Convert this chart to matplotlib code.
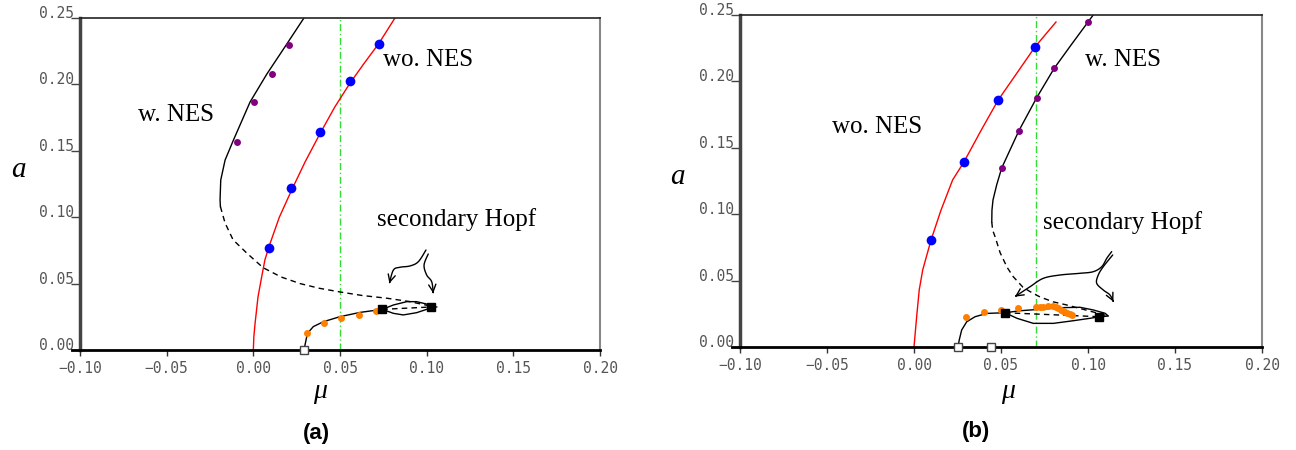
import numpy as np
import matplotlib.pyplot as plt
from matplotlib.path import Path
from matplotlib.patches import FancyArrowPatch

# ---------------- data ----------------
mu_ticks = [-0.10, -0.05, 0.00, 0.05, 0.10, 0.15, 0.20]
mu_tick_labels = ['\u22120.10', '\u22120.05', '0.00', '0.05', '0.10', '0.15', '0.20']
a_ticks = [0.00, 0.05, 0.10, 0.15, 0.20, 0.25]
a_tick_labels = ['0.00', '0.05', '0.10', '0.15', '0.20', '0.25']

# (a) without NES: stable branch (red) and numerical points (blue)
mu_wo_a = [0.0, 0.0003, 0.001, 0.0027, 0.0048, 0.0067, 0.0096, 0.015, 0.0223, 0.030,
           0.0385, 0.047, 0.0558, 0.064, 0.0725, 0.0817]
a_wo_a = [0.0, 0.010, 0.020, 0.040, 0.055, 0.068, 0.080, 0.100, 0.121, 0.142,
          0.163, 0.183, 0.201, 0.216, 0.231, 0.25]
mu_wo_pts_a = [0.009, 0.0217, 0.0385, 0.0558, 0.0725]
a_wo_pts_a = [0.0768, 0.122, 0.164, 0.2026, 0.2304]

# (a) with NES: stable upper branch, unstable (dashed) branch, points
mu_w_a = [0.0292, 0.0188, 0.0077, -0.0019, -0.0115, -0.0163, -0.0188, -0.0192, -0.0190]
a_w_a = [0.25, 0.2294, 0.2076, 0.1867, 0.158, 0.143, 0.128, 0.113, 0.108]
mu_w_uns_a = [-0.0190, -0.0163, -0.0117, -0.0038, 0.0056, 0.016, 0.027, 0.038, 0.050,
              0.063, 0.077, 0.090, 0.1025]
a_w_uns_a = [0.108, 0.0956, 0.083, 0.073, 0.062, 0.055, 0.050, 0.0465, 0.0437,
             0.041, 0.039, 0.0365, 0.0330]
mu_w_pts_a = [0.0206, 0.0108, 0.0004, -0.0094]
a_w_pts_a = [0.2297, 0.208, 0.187, 0.157]

# (a) lower periodic branch, secondary Hopf loop, points
mu_low_a = [0.0292, 0.0298, 0.0312, 0.0346, 0.0404, 0.050, 0.0615, 0.0744]
a_low_a = [0.0, 0.0037, 0.0125, 0.0176, 0.0213, 0.0251, 0.0283, 0.0306]
mu_loop_up_a = [0.0744, 0.0808, 0.0885, 0.0942, 0.100, 0.1025, 0.1058]
a_loop_up_a = [0.0306, 0.0339, 0.0364, 0.0364, 0.0346, 0.0324, 0.0324]
mu_loop_lo_a = [0.0744, 0.0808, 0.0865, 0.0942, 0.100, 0.1025]
a_loop_lo_a = [0.0306, 0.0276, 0.0264, 0.0281, 0.0306, 0.0324]
mu_hopf_a = [0.0744, 0.1025]
a_hopf_a = [0.0306, 0.0324]
mu_fold_a = [0.0292]
a_fold_a = [0.0]
mu_low_pts_a = [0.0308, 0.0408, 0.0508, 0.0608, 0.0708]
a_low_pts_a = [0.0126, 0.0206, 0.0243, 0.0264, 0.0296]
mu_forcing_a = 0.05

# (b) without NES
mu_wo_b = [0.0, 0.0008, 0.0017, 0.0030, 0.0050, 0.0098, 0.0155, 0.0222, 0.0287, 0.0385,
           0.0484, 0.059, 0.0695, 0.0816]
a_wo_b = [0.0, 0.012, 0.0253, 0.0429, 0.058, 0.0806, 0.103, 0.1258, 0.1393, 0.163,
          0.186, 0.206, 0.2259, 0.2447]
mu_wo_pts_b = [0.0098, 0.0287, 0.0484, 0.0695]
a_wo_pts_b = [0.0806, 0.1393, 0.186, 0.2259]

# (b) with NES
mu_w_b = [0.103, 0.100, 0.0906, 0.0806, 0.0705, 0.0603, 0.0504, 0.0475, 0.0454, 0.0448, 0.0447]
a_w_b = [0.25, 0.2447, 0.228, 0.2099, 0.1877, 0.1629, 0.1348, 0.122, 0.1107, 0.103, 0.094]
mu_w_uns_b = [0.0447, 0.0452, 0.0466, 0.0495, 0.0535, 0.0570, 0.0626, 0.0667, 0.0724,
              0.0800, 0.0879, 0.0954, 0.1029, 0.1115]
a_w_uns_b = [0.094, 0.088, 0.083, 0.071, 0.060, 0.053, 0.045, 0.0417, 0.0377,
             0.0340, 0.0316, 0.0290, 0.0264, 0.0233]
mu_w_pts_b = [0.100, 0.0806, 0.0705, 0.0603, 0.0504]
a_w_pts_b = [0.2447, 0.2099, 0.1877, 0.1629, 0.1348]

mu_low_b = [0.0253, 0.0260, 0.0274, 0.0303, 0.0351, 0.0418, 0.0523]
a_low_b = [0.0, 0.0053, 0.0128, 0.019, 0.0228, 0.0253, 0.0258]
mu_loop_up_b = [0.0523, 0.061, 0.0724, 0.0839, 0.0954, 0.103, 0.1098, 0.1117, 0.1065]
a_loop_up_b = [0.0258, 0.0273, 0.0284, 0.0296, 0.0299, 0.0279, 0.0254, 0.0233, 0.0228]
mu_loop_lo_b = [0.0523, 0.0592, 0.0686, 0.0801, 0.0916, 0.1011, 0.1065]
a_loop_lo_b = [0.0258, 0.0216, 0.0178, 0.0178, 0.0198, 0.0216, 0.0228]
mu_hopf_b = [0.0523, 0.1065]
a_hopf_b = [0.0258, 0.0228]
mu_fold_b = [0.0253, 0.0443]
a_fold_b = [0.0, 0.0]
mu_low_pts_b = [0.0299, 0.0402, 0.0498, 0.0600, 0.0701, 0.0724, 0.0743, 0.0772, 0.0801,
                0.0815, 0.083, 0.0843, 0.0855, 0.0869, 0.0882, 0.0895, 0.0907]
a_low_pts_b = [0.0228, 0.0266, 0.0279, 0.0291, 0.0299, 0.0304, 0.0304, 0.0306, 0.0309,
               0.0300, 0.0291, 0.0282, 0.0273, 0.0265, 0.0258, 0.0250, 0.0241]
mu_forcing_b = 0.07

# annotation arrows (curved pointers to the Hopf points)
arrows_a = [
    [(0.0996, 0.0753), (0.0952, 0.0665), (0.0904, 0.0633), (0.0846, 0.0623),
     (0.0808, 0.0602), (0.0785, 0.0502)],
    [(0.1009, 0.0723), (0.0985, 0.0640), (0.1000, 0.0565), (0.1029, 0.0514),
     (0.1038, 0.0427)],
]
arrows_b = [
    [(0.1136, 0.0718), (0.1108, 0.0668), (0.1079, 0.0605), (0.1030, 0.0567),
     (0.0954, 0.0555), (0.0839, 0.0542), (0.0743, 0.0517), (0.0667, 0.0454),
     (0.0580, 0.0379)],
    [(0.1142, 0.0693), (0.1088, 0.0605), (0.1059, 0.0542), (0.1050, 0.0480),
     (0.1088, 0.0429), (0.1126, 0.0392), (0.1146, 0.0341)],
]

RED = '#ff0000'
BLUE = '#0000ff'
PURPLE = '#800080'
ORANGE = '#ff7f00'
GREEN = '#33dd33'
SERIF = 'Liberation Serif'


def smooth(points, n=12):
    # Catmull-Rom through the pointer's control points (annotation only)
    p = np.array(points)
    p = np.vstack([p[0], p, p[-1]])
    out = []
    for i in range(1, len(p) - 2):
        p0, p1, p2, p3 = p[i - 1], p[i], p[i + 1], p[i + 2]
        for t in np.linspace(0, 1, n, endpoint=False):
            out.append(0.5 * ((2 * p1) + (-p0 + p2) * t +
                              (2 * p0 - 5 * p1 + 4 * p2 - p3) * t ** 2 +
                              (-p0 + 3 * p1 - 3 * p2 + p3) * t ** 3))
    out.append(p[-2])
    return np.array(out)


def style(ax, xlab_pos, ylab_pos):
    ax.set_xlim(-0.10, 0.20)
    ax.set_ylim(0.0, 0.25)
    ax.set_xticks(mu_ticks)
    ax.set_xticklabels(mu_tick_labels)
    ax.set_yticks(a_ticks)
    ax.set_yticklabels(a_tick_labels)
    for lab in ax.get_xticklabels() + ax.get_yticklabels():
        lab.set_fontfamily('DejaVu Sans Mono')
        lab.set_fontsize(10.5)
        lab.set_color('#555555')
    for lab in ax.get_yticklabels():
        lab.set_va('baseline')
    ax.tick_params(axis='y', direction='out', length=6.5, width=1, color='#444444', pad=-2)
    ax.tick_params(axis='x', direction='out', length=4, width=1, color='#333333', pad=4)
    ax.spines['left'].set_color('#444444')
    ax.spines['left'].set_linewidth(2.5)
    ax.spines['top'].set_color('#222222')
    ax.spines['top'].set_linewidth(1.2)
    ax.spines['right'].set_color('#888888')
    ax.spines['right'].set_linewidth(1.5)
    ax.spines['bottom'].set_visible(False)
    ax.plot([-0.016, 1.0], [0, 0], transform=ax.transAxes, clip_on=False,
            color='black', lw=2, zorder=6)
    ax.set_xlabel('\u03bc', fontsize=20, family=SERIF, style='italic')
    ax.xaxis.set_label_coords(*xlab_pos)
    ax.xaxis.label.set_va('center')
    ax.set_ylabel('a', fontsize=21, family=SERIF, style='italic', rotation=0)
    ax.yaxis.set_label_coords(*ylab_pos)
    ax.yaxis.label.set_va('center')
    ax.yaxis.label.set_ha('center')


def pointer(ax, pts):
    path = Path(smooth(pts))
    ax.add_patch(FancyArrowPatch(path=path, arrowstyle='->', mutation_scale=13,
                                 lw=1, color='black', zorder=5))


fig = plt.figure(figsize=(12.96, 4.5), dpi=100)
ax_a = fig.add_axes([80 / 1296, 1 - 350 / 450, 520 / 1296, 332 / 450])
ax_b = fig.add_axes([740 / 1296, 1 - 347 / 450, 522 / 1296, 332 / 450])

dash = (0, (4, 3))

# ---------------- panel (a) ----------------
ax = ax_a
ax.axvline(mu_forcing_a, color=GREEN, lw=1, ls=(0, (5, 2, 1, 2)), zorder=1)
ax.plot(mu_wo_a, a_wo_a, color=RED, lw=1, zorder=2)
ax.plot(mu_w_a, a_w_a, color='black', lw=1, zorder=2)
ax.plot(mu_w_uns_a, a_w_uns_a, color='black', lw=1, ls=dash, zorder=2)
ax.plot(mu_low_a, a_low_a, color='black', lw=1, zorder=2)
ax.plot(mu_loop_up_a, a_loop_up_a, color='black', lw=1, zorder=2)
ax.plot(mu_loop_lo_a, a_loop_lo_a, color='black', lw=1, zorder=2)
ax.plot(mu_hopf_a, a_hopf_a, color='black', lw=1, ls=dash, zorder=2)
ax.plot(mu_wo_pts_a, a_wo_pts_a, 'o', color=BLUE, ms=7, mec='none', zorder=3)
ax.plot(mu_w_pts_a, a_w_pts_a, 'o', color=PURPLE, ms=5, mec='none', zorder=3)
ax.plot(mu_low_pts_a, a_low_pts_a, 'o', color=ORANGE, ms=5, mec='none', zorder=3)
ax.plot(mu_hopf_a, a_hopf_a, 's', color='black', ms=6, zorder=4)
ax.plot(mu_fold_a, a_fold_a, 's', mfc='white', mec='#444444', mew=1, ms=6,
        zorder=7, clip_on=False)
ax.text(-0.0446, 0.177, 'w. NES', ha='center', va='center', fontsize=18, family=SERIF)
ax.text(0.1008, 0.2184, 'wo. NES', ha='center', va='center', fontsize=18, family=SERIF)
ax.text(0.1175, 0.0979, 'secondary Hopf', ha='center', va='center', fontsize=18, family=SERIF)
for pts in arrows_a:
    pointer(ax, pts)
style(ax, (0.4615, -0.1265), (-0.119, 0.542))

# ---------------- panel (b) ----------------
ax = ax_b
ax.axvline(mu_forcing_b, color=GREEN, lw=1, ls=(0, (5, 2, 1, 2)), zorder=1)
ax.plot(mu_wo_b, a_wo_b, color=RED, lw=1, zorder=2)
ax.plot(mu_w_b, a_w_b, color='black', lw=1, zorder=2)
ax.plot(mu_w_uns_b, a_w_uns_b, color='black', lw=1, ls=dash, zorder=2)
ax.plot(mu_low_b, a_low_b, color='black', lw=1, zorder=2)
ax.plot(mu_loop_up_b, a_loop_up_b, color='black', lw=1, zorder=2)
ax.plot(mu_loop_lo_b, a_loop_lo_b, color='black', lw=1, zorder=2)
ax.plot(mu_hopf_b, a_hopf_b, color='black', lw=1, ls=dash, zorder=2)
ax.plot(mu_wo_pts_b, a_wo_pts_b, 'o', color=BLUE, ms=7, mec='none', zorder=3)
ax.plot(mu_w_pts_b, a_w_pts_b, 'o', color=PURPLE, ms=5, mec='none', zorder=3)
ax.plot(mu_low_pts_b, a_low_pts_b, 'o', color=ORANGE, ms=5, mec='none', zorder=3)
ax.plot(mu_hopf_b, a_hopf_b, 's', color='black', ms=6, zorder=4)
ax.plot(mu_fold_b, a_fold_b, 's', mfc='white', mec='#444444', mew=1, ms=6,
        zorder=7, clip_on=False)
ax.text(-0.0213, 0.1657, 'wo. NES', ha='center', va='center', fontsize=18, family=SERIF)
ax.text(0.1201, 0.2161, 'w. NES', ha='center', va='center', fontsize=18, family=SERIF)
ax.text(0.1201, 0.0934, 'secondary Hopf', ha='center', va='center', fontsize=18, family=SERIF)
for pts in arrows_b:
    pointer(ax, pts)
style(ax, (0.513, -0.1355), (-0.119, 0.512))

fig.text(316 / 1296, 1 - 434 / 450, '(a)', ha='center', va='center', fontsize=16,
         fontweight='bold', family='Liberation Sans')
fig.text(976 / 1296, 1 - 432 / 450, '(b)', ha='center', va='center', fontsize=16,
         fontweight='bold', family='Liberation Sans')

fig.savefig('out.png', dpi=100)
